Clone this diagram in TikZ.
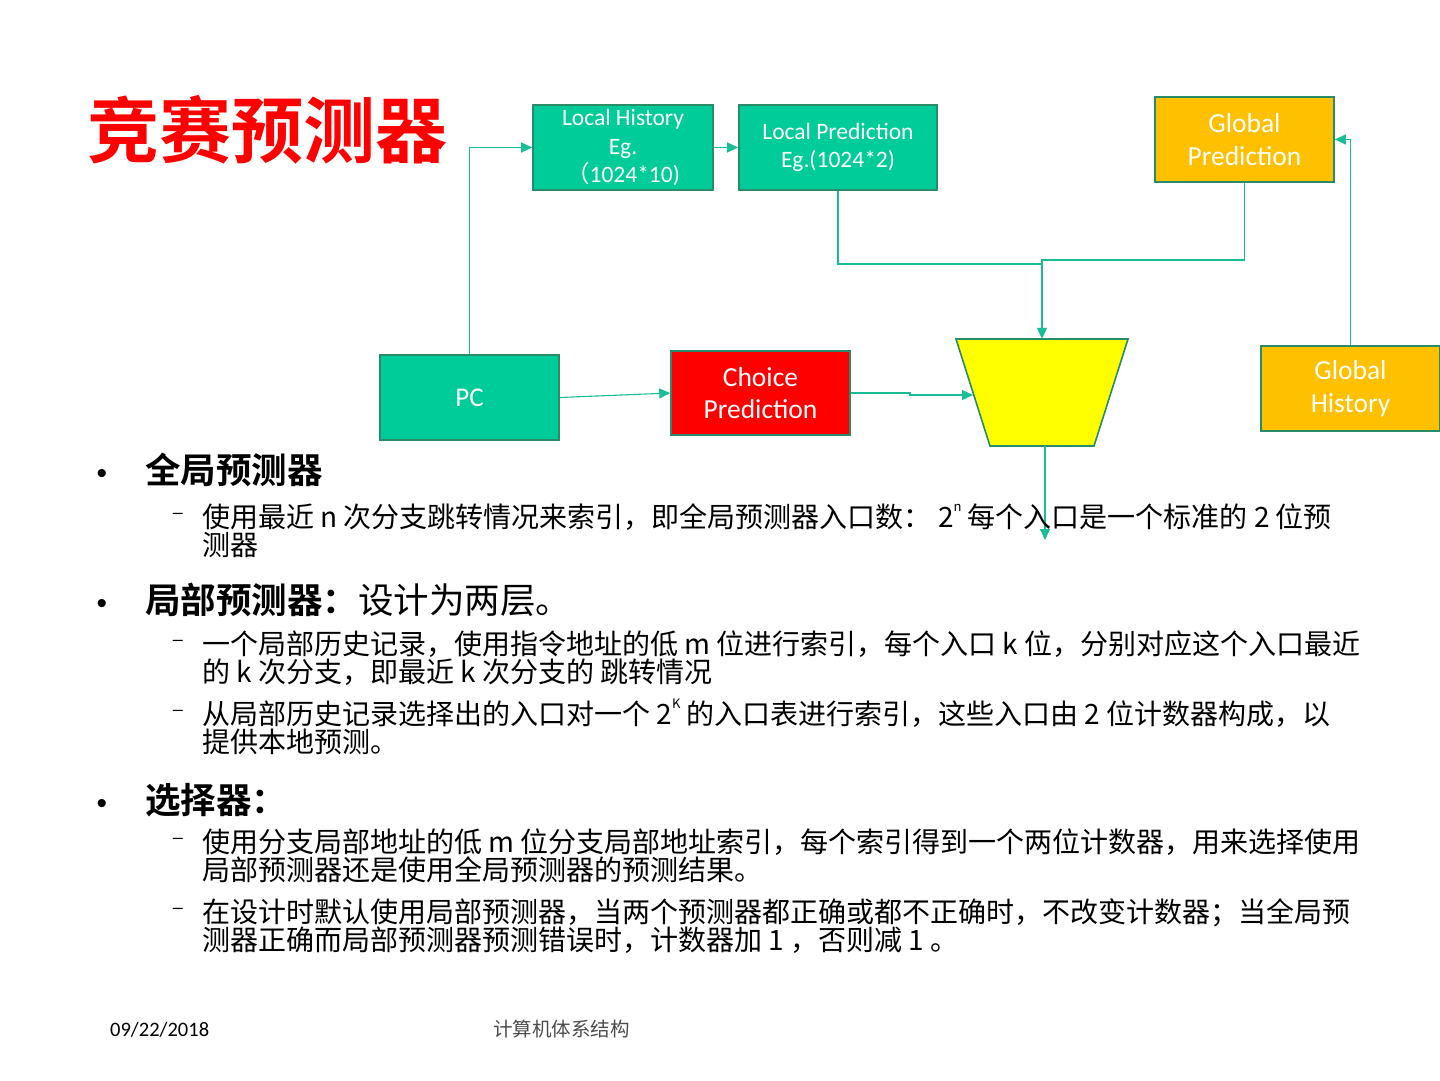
\documentclass[tikz,border=0pt]{standalone}
\usepackage{fontspec}
\setmainfont{Liberation Sans}
\newfontfamily\cjk{Noto Sans CJK SC}
\newfontfamily\cjkb{Noto Sans CJK SC Bold}
\newfontfamily\boxfont{Carlito}
\usetikzlibrary{arrows.meta}
\definecolor{boxgreen}{RGB}{0,204,153}
\definecolor{edgegreen}{RGB}{40,140,105}
\definecolor{conngreen}{RGB}{25,190,150}
\definecolor{orangebox}{RGB}{255,192,0}
\definecolor{redbox}{RGB}{255,0,0}
\definecolor{muxyellow}{RGB}{255,255,0}
\tikzset{
  blk/.style={draw=edgegreen, line width=1.6pt, inner sep=0pt, align=center,
    text=white, font=\boxfont\fontsize{23.5}{28.5}\selectfont},
  gblk/.style={blk, fill=boxgreen},
  oblk/.style={blk, fill=orangebox, font=\boxfont\fontsize{27.5}{33}\selectfont},
  rblk/.style={blk, fill=redbox, font=\boxfont\fontsize{27.5}{32}\selectfont},
  conn/.style={draw=conngreen, line width=1.1pt, -{Triangle[length=11pt,width=10pt]}},
  line/.style={draw=conngreen, line width=1.1pt},
  head/.style={anchor=base west, inner sep=0pt, font=\cjkb\fontsize{35.5}{35.5}\selectfont},
  body/.style={anchor=base west, inner sep=0pt, font=\cjk\fontsize{28}{28}\selectfont},
  bul/.style={anchor=base, inner sep=0pt, font=\fontsize{30}{30}\selectfont},
  dsh/.style={anchor=base, inner sep=0pt, font=\fontsize{18}{18}\selectfont},
}
\newcommand{\supr}[1]{\raisebox{0.55em}{\fontsize{13}{13}\selectfont #1}}
\begin{document}
\begin{tikzpicture}[x=1pt,y=-1pt]
\useasboundingbox[fill=white] (0,0) rectangle (1440,1080);

% title
\node[anchor=base west, inner sep=0pt, text=red, font=\cjkb\fontsize{72}{72}\selectfont] (title) at (87,157) {竞赛预测器};

% boxes
\node[gblk, minimum width=180pt, minimum height=85pt] (lh) at (623,147.5)
  {Local History\\Eg.\\{\cjk （}1024*10)};
\node[gblk, minimum width=198pt, minimum height=85pt] (lp) at (838,147.5)
  {Local Prediction\\Eg.(1024*2)};
\node[oblk, minimum width=179pt, minimum height=85pt] (gp) at (1244.5,139.5)
  {Global\\Prediction};
\node[oblk, minimum width=179pt, minimum height=85pt] (gh) at (1350.5,388.5)
  {Global\\History};
\node[gblk, minimum width=179pt, minimum height=85pt, font=\boxfont\fontsize{27}{30}\selectfont] (pc) at (469.5,397.5) {PC};
\node[rblk, minimum width=179pt, minimum height=84pt] (ch) at (760.5,393)
  {Choice\\Prediction};

% selector (trapezoid)
\draw[draw=edgegreen, line width=1.6pt, fill=muxyellow]
  (956,339) -- (1128,339) -- (1094,446) -- (990,446) -- cycle;
\node[inner sep=0pt, minimum width=104pt, minimum height=107pt] (mux) at (1042,392.5) {};
\coordinate (muxin) at (973,395);
\coordinate (muxout) at (1045,446);
\coordinate (out) at (1045,540);
\coordinate (joinl) at (1042,264);
\coordinate (joing) at (1042,260);

% connectors
\draw[conn] (pc.north) |- (lh.west);
\draw[conn] (lh.east) -- (lp.west);
\draw[line] (lp.south) |- (joinl);
\draw[conn] (gp.south) |- (joing) -- (mux.north);
\draw[conn] (gh.north) |- (gp.east);
\draw[conn] (pc.east) -- (ch.west);
\draw[conn] (ch.east) -- (910,393) -- (910,395) -- (muxin);
\draw[conn] (muxout) -- (out);

% bullets
\node[bul] (b1) at (102,483) {•};
\node[head] (h1) at (145,483) {全局预测器};
\node[dsh] (d11) at (178,518) {–};
\node[body] (t11) at (202,527) {使用最近 n 次分支跳转情况来索引，即全局预测器入口数： 2\supr{n} 每个入口是一个标准的 2 位预};
\node[body] (t12) at (202,555) {测器};

\node[bul] (b2) at (102,613) {•};
\node[head] (h2) at (145,613) {局部预测器：{\cjk 设计为两层。}};
\node[dsh] (d21) at (178,645) {–};
\node[body] (t21) at (202,654) {一个局部历史记录，使用指令地址的低 m 位进行索引，每个入口 k 位，分别对应这个入口最近};
\node[body] (t22) at (202,682) {的 k 次分支，即最近 k 次分支的 跳转情况};
\node[dsh] (d22) at (178,715) {–};
\node[body] (t23) at (202,724) {从局部历史记录选择出的入口对一个 2\supr{K} 的入口表进行索引，这些入口由 2 位计数器构成，以};
\node[body] (t24) at (202,752) {提供本地预测。};

\node[bul] (b3) at (102,813) {•};
\node[head] (h3) at (145,813) {选择器：};
\node[dsh] (d31) at (178,843) {–};
\node[body] (t31) at (202,852) {使用分支局部地址的低 m 位分支局部地址索引，每个索引得到一个两位计数器，用来选择使用};
\node[body] (t32) at (202,880) {局部预测器还是使用全局预测器的预测结果。};
\node[dsh] (d32) at (178,913) {–};
\node[body] (t33) at (202,922) {在设计时默认使用局部预测器，当两个预测器都正确或都不正确时，不改变计数器；当全局预};
\node[body] (t34) at (202,950) {测器正确而局部预测器预测错误时，计数器加 1 ，否则减 1 。};

% footer
\node[anchor=base west, inner sep=0pt, font=\boxfont\fontsize{20.5}{20.5}\selectfont] (date) at (110,1036) {09/22/2018};
\node[anchor=base west, inner sep=0pt, text=black!70, font=\cjk\fontsize{19.5}{19.5}\selectfont] (foot) at (493,1036) {计算机体系结构};
\end{tikzpicture}
\end{document}
